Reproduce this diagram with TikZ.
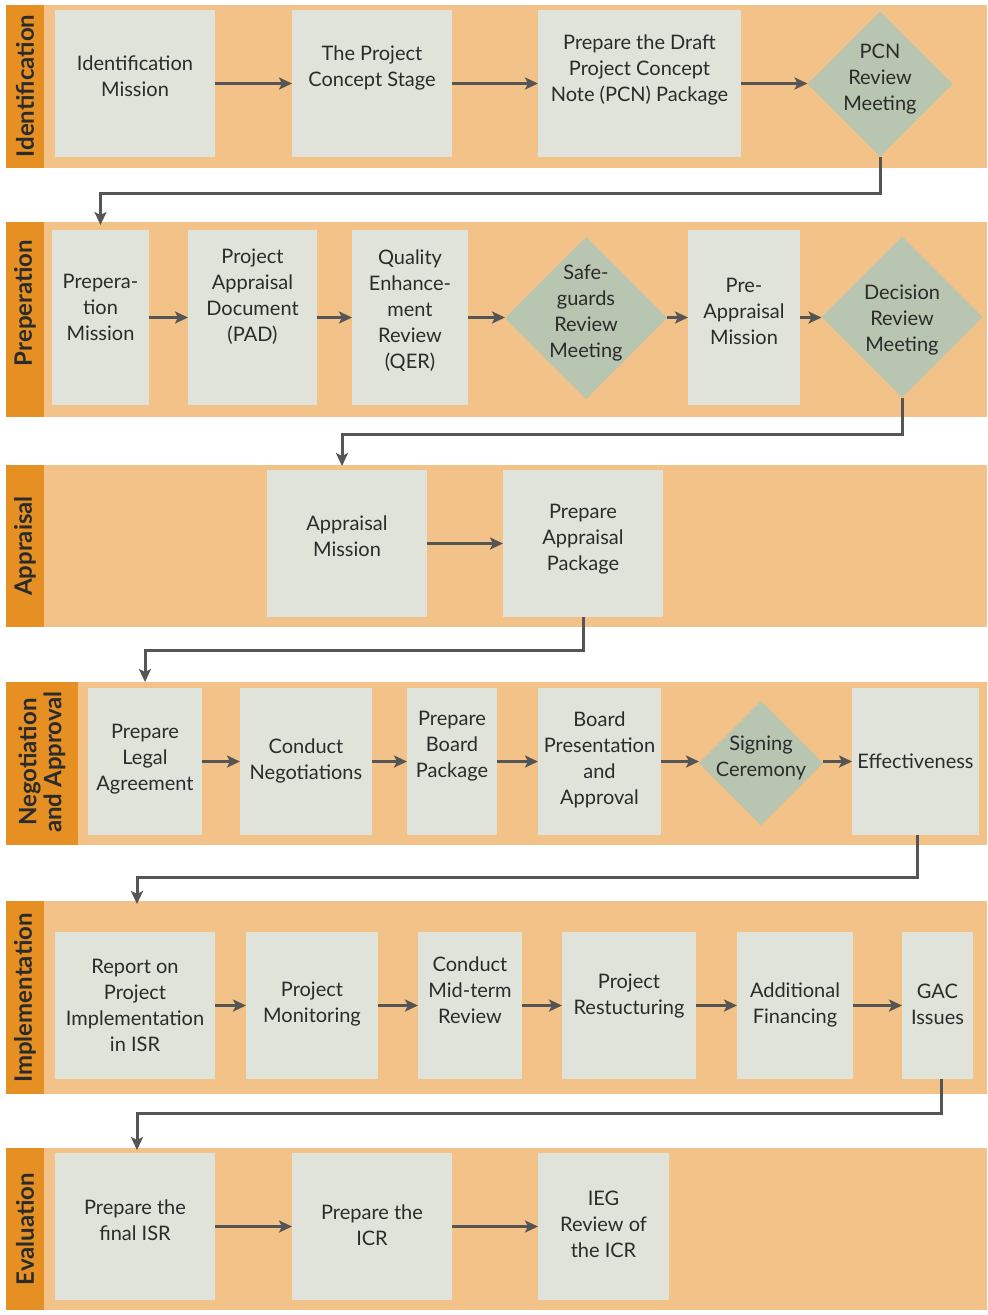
\documentclass[tikz,border=0pt]{standalone}
\usepackage{fontspec}
\setmainfont{Lato}
\usetikzlibrary{shapes.geometric,arrows.meta}
\definecolor{darkc}{HTML}{E68F22}
\definecolor{bandc}{HTML}{F2C288}
\definecolor{boxc}{HTML}{E0E3DA}
\definecolor{diac}{HTML}{B8C5B1}
\definecolor{linec}{HTML}{555555}
\definecolor{txtc}{HTML}{2B2B2B}
\newcommand\mybox[7]{%
  \node[box,minimum width=#4,minimum height=#5] (#1) at (#2,#3) {};
  \node[txt] (#1t) at ([yshift=#6]#1.center) {#7};}
\newcommand\mydia[6]{%
  \node[dia,minimum width=#4,minimum height=#4] (#1) at (#2,#3) {};
  \node[txt] (#1t) at ([yshift=#5]#1.center) {#6};}
\newcommand\myband[6]{%
  \node[stripst,minimum width=#4,minimum height=#3-#2] (#1s) at (6,#2) {};
  \node[bandst,minimum width=987-6-#4,minimum height=#3-#2] (#1) at (6+#4,#2) {};
  \node[lab] (#1l) at ({6+#4/2},#6) {#5};}
\begin{document}
\begin{tikzpicture}[x=1pt,y=-1pt,
  box/.style={fill=boxc,inner sep=0pt,outer sep=0pt,draw=none},
  dia/.style={diamond,fill=diac,inner sep=0pt,outer sep=0pt,draw=none},
  txt/.style={align=center,text=txtc,inner sep=0pt,font=\fontsize{20}{26}\selectfont},
  stripst/.style={fill=darkc,anchor=north west,inner sep=0pt,outer sep=0pt},
  bandst/.style={fill=bandc,anchor=north west,inner sep=0pt,outer sep=0pt},
  lab/.style={rotate=90,align=center,text=txtc,inner sep=0pt,font=\bfseries\fontsize{24}{25}\selectfont},
  arr/.style={draw=linec,line width=3pt,-{Stealth[length=13pt,width=12pt,inset=3pt]}},
  conn/.style={draw=linec,line width=3pt,-{Stealth[length=13pt,width=12pt,inset=3pt]}}]
\useasboundingbox (0,0) rectangle (988,1315);
\fill[white] (0,0) rectangle (988,1315);
% bands
\myband{b1}{5}{168}{38}{Identification}{86}
\myband{b2}{222}{417}{38}{Preperation}{303}
\myband{b3}{465}{627}{38}{Appraisal}{546}
\myband{b4}{682}{845}{72}{Negotiation\\and Approval}{762}
\myband{b5}{901}{1094}{38}{Implementation}{998}
\myband{b6}{1148}{1310}{38}{Evaluation}{1229}
% band 1
\mybox{im}{135}{83.5}{160}{147}{7}{Identification\\Mission}
\mybox{pcs}{372}{83.5}{160}{147}{16}{The Project\\Concept Stage}
\mybox{draft}{639.5}{83.5}{203}{147}{14}{Prepare the Draft\\Project Concept\\Note (PCN) Package}
\mydia{pcn}{880}{84}{145}{5}{PCN\\Review\\Meeting}
% band 2
\mybox{prep}{100.5}{317.5}{97}{175}{10}{Prepera-\\tion\\Mission}
\mybox{pad}{252.5}{317.5}{129}{175}{21}{Project\\Appraisal\\Document\\(PAD)}
\mybox{qer}{410}{317.5}{116}{175}{7}{Quality\\Enhance-\\ment\\Review\\(QER)}
\mydia{safe}{586}{318}{162}{5}{Safe-\\guards\\Review\\Meeting}
\mybox{pam}{744}{317.5}{112}{175}{6}{Pre-\\Appraisal\\Mission}
\mydia{drm}{902}{317}{161}{-3}{Decision\\Review\\Meeting}
% band 3
\mybox{am}{347}{543.5}{160}{147}{7}{Appraisal\\Mission}
\mybox{pap}{583}{543.5}{160}{147}{4}{Prepare\\Appraisal\\Package}
% band 4
\mybox{pla}{145}{761.5}{114}{147}{2}{Prepare\\Legal\\Agreement}
\mybox{cn}{306}{761.5}{132}{147}{1}{Conduct\\Negotiations}
\mybox{pbp}{452}{761.5}{90}{147}{15}{Prepare\\Board\\Package}
\mybox{bpa}{599.5}{761.5}{123}{147}{2}{Board\\Presentation\\and\\Approval}
\mydia{sc}{761}{763}{124}{5}{Signing\\Ceremony}
\mybox{eff}{915.5}{761.5}{127}{147}{0}{Effectiveness}
% band 5
\mybox{rep}{135}{1005.5}{160}{147}{0}{Report on\\Project\\Implementation\\in ISR}
\mybox{pm}{312}{1005.5}{132}{147}{1}{Project\\Monitoring}
\mybox{cmr}{470}{1005.5}{104}{147}{15}{Conduct\\Mid-term\\Review}
\mybox{pr}{629}{1005.5}{134}{147}{9}{Project\\Restucturing}
\mybox{af}{795}{1005.5}{116}{147}{1}{Additional\\Financing}
\mybox{gac}{937.5}{1005.5}{71}{147}{1}{GAC\\Issues}
% band 6
\mybox{fisr}{135}{1226.5}{160}{147}{6}{Prepare the\\final ISR}
\mybox{icr}{372}{1226.5}{160}{147}{1}{Prepare the\\ICR}
\mybox{ieg}{603.5}{1226.5}{131}{147}{2}{IEG\\Review of\\the ICR}
% arrows within bands
\draw[arr] (im.east) -- (pcs.west);
\draw[arr] (pcs.east) -- (draft.west);
\draw[arr] (draft.east) -- (draft.east -| pcn.west);
\draw[arr] (prep.east) -- (pad.west);
\draw[arr] (pad.east) -- (qer.west);
\draw[arr] (qer.east) -- (qer.east -| safe.west);
\draw[arr] (safe.east |- pam.west) -- (pam.west);
\draw[arr] (pam.east) -- (pam.east -| drm.west);
\draw[arr] (am.east) -- (pap.west);
\draw[arr] (pla.east) -- (cn.west);
\draw[arr] (cn.east) -- (pbp.west);
\draw[arr] (pbp.east) -- (bpa.west);
\draw[arr] (bpa.east) -- (bpa.east -| sc.west);
\draw[arr] (sc.east |- eff.west) -- (eff.west);
\draw[arr] (rep.east) -- (pm.west);
\draw[arr] (pm.east) -- (cmr.west);
\draw[arr] (cmr.east) -- (pr.west);
\draw[arr] (pr.east) -- (af.west);
\draw[arr] (af.east) -- (gac.west);
\draw[arr] (fisr.east) -- (icr.west);
\draw[arr] (icr.east) -- (ieg.west);
% connectors between bands
\draw[conn] (pcn.south) -- ++(0,36.5) -| ([yshift=-3]prep.north |- b2.north);
\draw[conn] (drm.south) -- ++(0,36.5) -| ([xshift=-5,yshift=-1]am.north |- b3.north);
\draw[conn] (pap.south) -- ++(0,33) -| (pla.north |- b4.north);
\draw[conn] ([xshift=1.5]eff.south) -- ++(0,42) -| ([xshift=2,yshift=-3]rep.north |- b5.north);
\draw[conn] ([xshift=3.5]gac.south) -- ++(0,34) -| ([xshift=2,yshift=-2]fisr.north |- b6.north);
\end{tikzpicture}
\end{document}
